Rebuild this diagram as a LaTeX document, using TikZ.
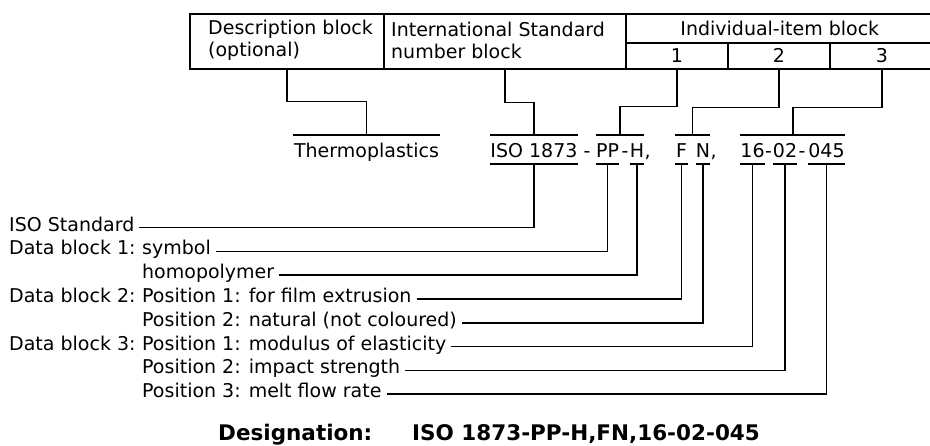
\documentclass[tikz,border=0pt]{standalone}
\usepackage{fontspec}
\setmainfont{DejaVu Sans}
\usetikzlibrary{calc}

\tikzset{
    cell/.style={draw,line width=1.6pt,anchor=north west,inner sep=0pt},
    txt/.style={font=\fontsize{19}{22}\selectfont,inner sep=0pt},
    seg/.style={txt,minimum height=29pt,text height=15pt,text depth=0pt},
    lbl/.style={txt,anchor=west,text height=12pt,text depth=5pt,inner xsep=5pt},
    wire/.style={line width=1.6pt}
}

\begin{document}
\begin{tikzpicture}[x=1pt,y=-1pt]

    \useasboundingbox (0,0) rectangle (930,445);

    \node (desc)  [cell,minimum width=194pt,minimum height=55pt] at (189,13) {};
    \node (intl)  [cell,minimum width=242pt,minimum height=55pt] at (383,13) {};
    \node (head)  [cell,minimum width=308pt,minimum height=29pt] at (625,13) {};
    \node (item1) [cell,minimum width=102pt,minimum height=26pt] at (625,42) {};
    \node (item2) [cell,minimum width=102pt,minimum height=26pt] at (727,42) {};
    \node (item3) [cell,minimum width=104pt,minimum height=26pt] at (829,42) {};

    \node (desctext) [txt,anchor=west,align=left] at (208,40) {Description block\\(optional)};
    \node (intltext) [txt,anchor=west,align=left] at (391,40) {International Standard\\number block};
    \node (headtext) [txt] at (head.center) {Individual-item block};
    \node (onetext)   [txt] at (item1.center) {1};
    \node (twotext)   [txt] at (item2.center) {2};
    \node (threetext) [txt] at (item3.center) {3};

    \node (thermo) [seg,minimum width=147pt] at (366.5,149.5) {Thermoplastics};
    \node (iso)    [seg,minimum width=82pt]  at (534,149.5)   {ISO 1873};
    \node (dash1)  [seg]                     at (587,149.5)   {-};
    \node (pp)     [seg,minimum width=23pt]  at (607.5,149.5) {PP};
    \node (dash2)  [seg]                     at (625,149.5)   {-};
    \node (h)      [seg,minimum width=12pt]  at (637,149.5)   {H};
    \node (comma1) [seg,anchor=west]         at (h.east)      {,};
    \node (f)      [seg,minimum width=13pt]  at (681.5,149.5) {F};
    \node (n)      [seg,minimum width=12pt]  at (703,149.5)   {N};
    \node (comma2) [seg,anchor=west]         at (n.east)      {,};
    \node (s16)    [seg,minimum width=21pt]  at (752.5,149.5) {16};
    \node (dash3)  [seg]                     at (768.5,149.5) {-};
    \node (s02)    [seg,minimum width=24pt]  at (785,149.5)   {02};
    \node (dash4)  [seg]                     at (802,149.5)   {-};
    \node (s045)   [seg,minimum width=37pt]  at (826.5,149.5) {045};

    \draw[wire] (thermo.north west) -- (thermo.north east);
    \draw[wire] (iso.north west) -- (iso.north east);
    \draw[wire] (pp.north west) -- (h.north east);
    \draw[wire] (f.north west) -- (n.north east);
    \draw[wire] (s16.north west) -- (s045.north east);

    \foreach \s in {iso,pp,h,f,n,s16,s02,s045} {
        \draw[wire] (\s.south west) -- (\s.south east);
    }

    \draw[wire] (desc.south) -- ++(0,32) -| (thermo.north);
    \draw[wire] (intl.south) -- ++(0,33) -| (iso.north);
    \draw[wire] (item1.south) -- ++(0,37) -| ($(pp.north west)!0.5!(h.north east)$);
    \draw[wire] (item2.south) -- ++(0,38) -| ($(f.north west)!0.5!(n.north east)$);
    \draw[wire] (item3.south) -- ++(0,38) -| ($(s16.north west)!0.5!(s045.north east)$);

    \node (lstd)  [lbl] at (4,227.5)   {ISO Standard};
    \node (db1)   [lbl] at (4,251.3)   {Data block 1:};
    \node (lsym)  [lbl] at (137,251.3) {symbol};
    \node (lhomo) [lbl] at (137,275.1) {homopolymer};
    \node (db2)   [lbl] at (4,298.9)   {Data block 2:};
    \node (lfilm) [lbl] at (137,298.9) {Position 1: for film extrusion};
    \node (lnat)  [lbl] at (137,322.7) {Position 2: natural (not coloured)};
    \node (db3)   [lbl] at (4,346.5)   {Data block 3:};
    \node (lmod)  [lbl] at (137,346.5) {Position 1: modulus of elasticity};
    \node (limp)  [lbl] at (137,370.3) {Position 2: impact strength};
    \node (lmelt) [lbl] at (137,394.1) {Position 3: melt flow rate};

    \foreach \a/\b in {lstd/iso,lsym/pp,lhomo/h,lfilm/f,lnat/n,lmod/s16,limp/s02,lmelt/s045} {
        \draw[wire] (\a.east) -| (\b.south);
    }

    \node (desig) [font=\fontsize{21.5}{24}\selectfont\bfseries,anchor=base west,inner sep=0pt] at (218,440) {Designation:};
    \node (code)  [font=\fontsize{21.5}{24}\selectfont\bfseries,anchor=base west,inner sep=0pt] at (412,440) {ISO 1873-PP-H,FN,16-02-045};

\end{tikzpicture}
\end{document}
